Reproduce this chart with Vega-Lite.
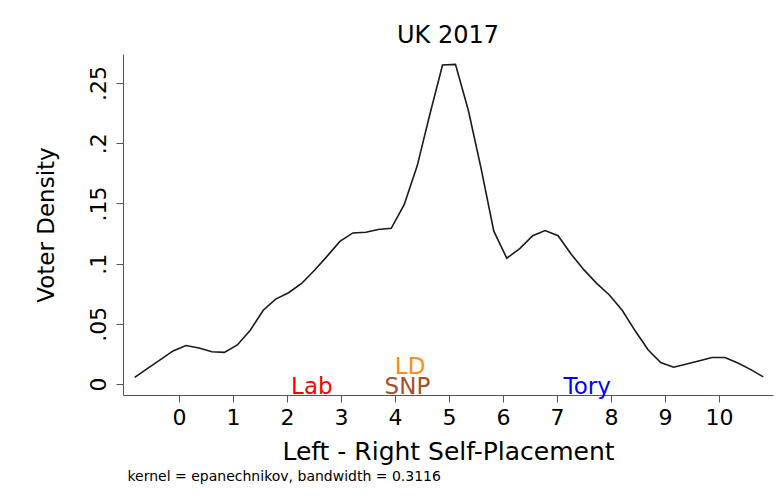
{
  "$schema": "https://vega.github.io/schema/vega-lite/v6.json",
  "width": 650,
  "height": 341,
  "autosize": "none",
  "padding": {"left": 123, "top": 54, "right": 8, "bottom": 104},
  "background": "white",
  "config": {
    "font": "DejaVu Sans",
    "view": {"stroke": null},
    "axis": {"grid": false, "domainColor": "#555555", "tickColor": "#555555", "labelColor": "#000000", "titleColor": "#000000", "titleFontWeight": "normal"}
  },
  "title": {
    "text": "UK 2017",
    "fontSize": 24,
    "fontWeight": "normal",
    "color": "#000000",
    "anchor": "middle",
    "frame": "group",
    "offset": 6
  },
  "datasets": {
    "density": [
      {"x": -0.82, "density": 0.0055},
      {"x": -0.58, "density": 0.013},
      {"x": -0.35, "density": 0.020},
      {"x": -0.11, "density": 0.0275},
      {"x": 0.13, "density": 0.032},
      {"x": 0.37, "density": 0.030},
      {"x": 0.61, "density": 0.0268},
      {"x": 0.84, "density": 0.0263},
      {"x": 1.08, "density": 0.0325},
      {"x": 1.32, "density": 0.0447},
      {"x": 1.56, "density": 0.0613},
      {"x": 1.79, "density": 0.0705},
      {"x": 2.03, "density": 0.0758},
      {"x": 2.27, "density": 0.0835},
      {"x": 2.51, "density": 0.0945},
      {"x": 2.74, "density": 0.106},
      {"x": 2.98, "density": 0.1185},
      {"x": 3.22, "density": 0.1255},
      {"x": 3.46, "density": 0.126},
      {"x": 3.69, "density": 0.1283},
      {"x": 3.93, "density": 0.1293},
      {"x": 4.17, "density": 0.149},
      {"x": 4.41, "density": 0.181},
      {"x": 4.64, "density": 0.223},
      {"x": 4.88, "density": 0.265},
      {"x": 5.12, "density": 0.2655},
      {"x": 5.36, "density": 0.227},
      {"x": 5.59, "density": 0.18},
      {"x": 5.83, "density": 0.127},
      {"x": 6.07, "density": 0.1045},
      {"x": 6.31, "density": 0.1125},
      {"x": 6.55, "density": 0.1232},
      {"x": 6.78, "density": 0.1275},
      {"x": 7.02, "density": 0.1232},
      {"x": 7.26, "density": 0.108},
      {"x": 7.50, "density": 0.0948},
      {"x": 7.73, "density": 0.0838},
      {"x": 7.97, "density": 0.074},
      {"x": 8.21, "density": 0.061},
      {"x": 8.45, "density": 0.044},
      {"x": 8.69, "density": 0.0283},
      {"x": 8.92, "density": 0.0178},
      {"x": 9.16, "density": 0.014},
      {"x": 9.40, "density": 0.0166},
      {"x": 9.64, "density": 0.0194},
      {"x": 9.87, "density": 0.022},
      {"x": 10.11, "density": 0.022},
      {"x": 10.35, "density": 0.0175},
      {"x": 10.59, "density": 0.012},
      {"x": 10.82, "density": 0.006}
    ],
    "parties": [
      {"party": "Lab", "position": 2.46, "height": 0},
      {"party": "SNP", "position": 4.23, "height": 0},
      {"party": "LD", "position": 4.28, "height": 0.0165},
      {"party": "Tory", "position": 7.56, "height": 0}
    ]
  },
  "layer": [
    {
      "data": {"name": "density"},
      "mark": {"type": "line", "color": "#1a1a1a", "strokeWidth": 1.6, "interpolate": "linear"},
      "encoding": {
        "x": {
          "field": "x",
          "type": "quantitative",
          "scale": {"domain": [-1.037, 11.0], "nice": false, "zero": false},
          "axis": {
            "orient": "bottom",
            "values": [0, 1, 2, 3, 4, 5, 6, 7, 8, 9, 10],
            "title": "Left - Right Self-Placement",
            "titleFontSize": 25,
            "titlePadding": 11,
            "labelFontSize": 22,
            "labelPadding": 5,
            "tickSize": 7,
            "labelFlush": false
          }
        },
        "y": {
          "field": "density",
          "type": "quantitative",
          "scale": {"domain": [-0.0091, 0.2741], "nice": false, "zero": false},
          "axis": {
            "values": [0, 0.05, 0.1, 0.15, 0.2, 0.25],
            "labelExpr": "datum.value == 0 ? '0' : substring(format(datum.value, '.2~f'), 1)",
            "labelAngle": -90,
            "labelAlign": "center",
            "labelBaseline": "bottom",
            "labelFontSize": 22,
            "labelPadding": 6,
            "labelFlush": false,
            "tickSize": 7,
            "title": "Voter Density",
            "titleFontSize": 23,
            "titlePadding": 29
          }
        }
      }
    },
    {
      "data": {"name": "parties"},
      "mark": {"type": "text", "fontSize": 23, "align": "center", "baseline": "middle", "dy": 3},
      "encoding": {
        "x": {
          "field": "position",
          "type": "quantitative",
          "axis": {
            "orient": "bottom",
            "title": "kernel = epanechnikov, bandwidth = 0.3116",
            "titleFontSize": 14,
            "titleAnchor": "start",
            "titleAlign": "left",
            "titlePadding": 74,
            "titleX": 4,
            "labels": false,
            "ticks": false,
            "domain": false
          }
        },
        "y": {"field": "height", "type": "quantitative"},
        "text": {"field": "party"},
        "color": {
          "field": "party",
          "type": "nominal",
          "scale": {"domain": ["Lab", "SNP", "LD", "Tory"], "range": ["#ff0000", "#a0522d", "#ff8c1a", "#0000ff"]},
          "legend": null
        }
      }
    }
  ],
  "resolve": {"axis": {"x": "independent"}}
}
